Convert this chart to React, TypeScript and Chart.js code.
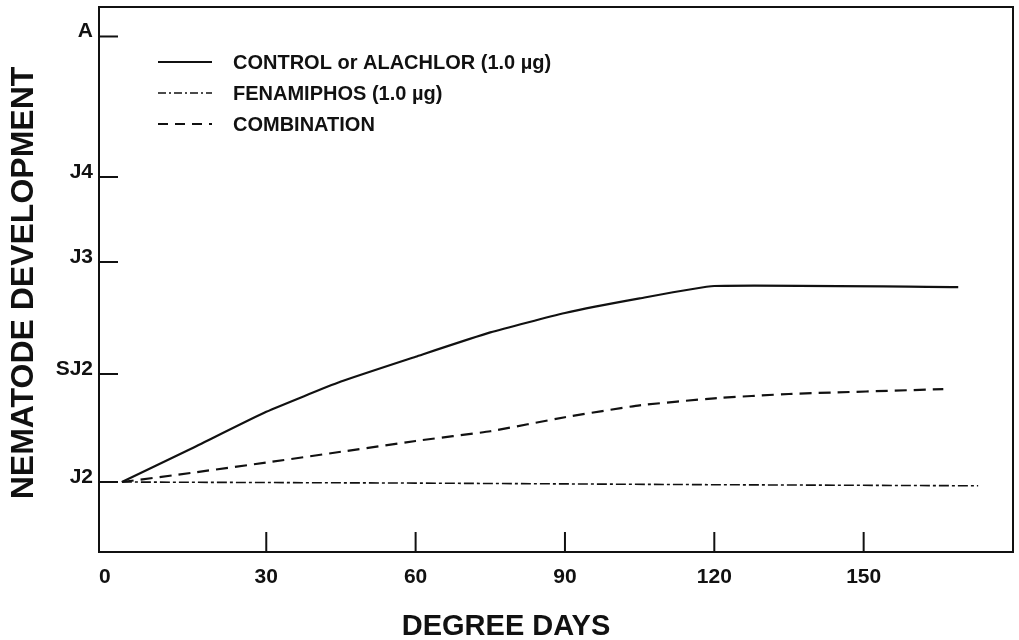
import React, { useEffect, useRef } from 'react';
import { Chart, registerables } from 'chart.js';

Chart.register(...registerables);

// ---- data ----
const controlX = [1, 15, 30, 45, 60, 75, 90, 105, 120, 169];
const controlY = [0, 0.31, 0.65, 0.93, 1.16, 1.385, 1.565, 1.7, 1.815, 1.805];

const fenamiphosX = [1, 60, 120, 173];
const fenamiphosY = [0, -0.01, -0.025, -0.035];

const combinationX = [1, 15, 30, 45, 60, 75, 90, 105, 120, 135, 166];
const combinationY = [0, 0.085, 0.18, 0.28, 0.38, 0.47, 0.6, 0.71, 0.775, 0.815, 0.86];

const seriesLabels = [
  'CONTROL or ALACHLOR (1.0 µg)',
  'FENAMIPHOS (1.0 µg)',
  'COMBINATION',
];

// developmental stage tick positions on the y scale
const stageLabels = ['J2', 'SJ2', 'J3', 'J4', 'A'];
const stageValues = [0, 1.0, 2.037, 2.824, 4.125];

const xTickValues = [0, 30, 60, 90, 120, 150];

const xTitle = 'DEGREE DAYS';
const yTitle = 'NEMATODE DEVELOPMENT';

const FONT = '"Liberation Sans", Arial, Helvetica, sans-serif';
const INK = '#111';

const toPoints = (xs: number[], ys: number[]) => xs.map((x, i) => ({ x, y: ys[i] }));

const paperPlugin = {
  id: 'paperAxes',
  afterDraw(chart: any) {
    const { ctx, chartArea: a } = chart;
    const xs = chart.scales.x;
    const ys = chart.scales.y;
    ctx.save();
    ctx.strokeStyle = INK;
    ctx.fillStyle = INK;
    ctx.lineWidth = 2;
    ctx.setLineDash([]);
    // frame
    ctx.strokeRect(a.left, a.top, a.right - a.left, a.bottom - a.top);

    // y ticks (inside) and stage labels
    ctx.font = `bold 21px ${FONT}`;
    ctx.textAlign = 'right';
    ctx.textBaseline = 'alphabetic';
    stageValues.forEach((v, i) => {
      const py = ys.getPixelForValue(v);
      ctx.beginPath();
      ctx.moveTo(a.left, py);
      ctx.lineTo(a.left + 19, py);
      ctx.stroke();
      ctx.fillText(stageLabels[i], a.left - 6, py + 1);
    });

    // x ticks (inside) and labels
    ctx.textAlign = 'center';
    ctx.font = `bold 21px ${FONT}`;
    xTickValues.forEach((v) => {
      const px = xs.getPixelForValue(v);
      if (v !== 0) {
        ctx.beginPath();
        ctx.moveTo(px, a.bottom);
        ctx.lineTo(px, a.bottom - 20);
        ctx.stroke();
      }
      const lx = v === 0 ? px - 12 : px;
      ctx.fillText(String(v), lx, a.bottom + 31);
    });

    // axis titles
    ctx.font = `bold 29px ${FONT}`;
    ctx.textAlign = 'center';
    ctx.textBaseline = 'alphabetic';
    ctx.fillText(xTitle, 506, 635);

    ctx.save();
    ctx.translate(33, 283);
    ctx.rotate(-Math.PI / 2);
    ctx.font = `bold 32px ${FONT}`;
    ctx.fillText(yTitle, 0, 0);
    ctx.restore();

    // legend
    const rows = [62, 93, 124];
    ctx.font = `bold 20px ${FONT}`;
    ctx.textAlign = 'left';
    ctx.textBaseline = 'middle';
    chart.data.datasets.forEach((ds: any, i: number) => {
      const ry = rows[i];
      ctx.beginPath();
      ctx.lineWidth = ds.borderWidth;
      ctx.setLineDash(ds.legendDash || []);
      ctx.moveTo(158, ry);
      ctx.lineTo(212, ry);
      ctx.stroke();
      ctx.setLineDash([]);
      ctx.fillText(ds.label, 233, ry + 1);
    });
    ctx.restore();
  },
};

export default function App() {
  const ref = useRef<HTMLCanvasElement | null>(null);

  useEffect(() => {
    if (!ref.current) return;
    const chart = new Chart(ref.current, {
      type: 'line',
      data: {
        datasets: [
          {
            label: seriesLabels[0],
            data: toPoints(controlX, controlY),
            borderColor: INK,
            borderWidth: 2.2,
            pointRadius: 0,
            tension: 0.15,
          } as any,
          {
            label: seriesLabels[1],
            data: toPoints(fenamiphosX, fenamiphosY),
            borderColor: INK,
            borderWidth: 1.6,
            borderDash: [10, 3, 3, 3],
            legendDash: [8, 3, 2, 3],
            pointRadius: 0,
          } as any,
          {
            label: seriesLabels[2],
            data: toPoints(combinationX, combinationY),
            borderColor: INK,
            borderWidth: 2.2,
            borderDash: [12, 7],
            legendDash: [10, 7],
            pointRadius: 0,
            tension: 0.15,
          } as any,
        ],
      },
      options: {
        animation: false,
        responsive: false,
        devicePixelRatio: 1,
        layout: { padding: { left: 99, right: 6, top: 7, bottom: 88 } },
        plugins: { legend: { display: false }, tooltip: { enabled: false } },
        scales: {
          x: { type: 'linear', min: -3.6, max: 180, display: false },
          y: { type: 'linear', min: -0.648, max: 4.398, display: false },
        },
      },
      plugins: [paperPlugin],
    });
    return () => chart.destroy();
  }, []);

  return (
    <div style={{ position: 'absolute', left: 0, top: 0, width: 1019, height: 640, background: '#fff' }}>
      <canvas ref={ref} width={1019} height={640} />
    </div>
  );
}
